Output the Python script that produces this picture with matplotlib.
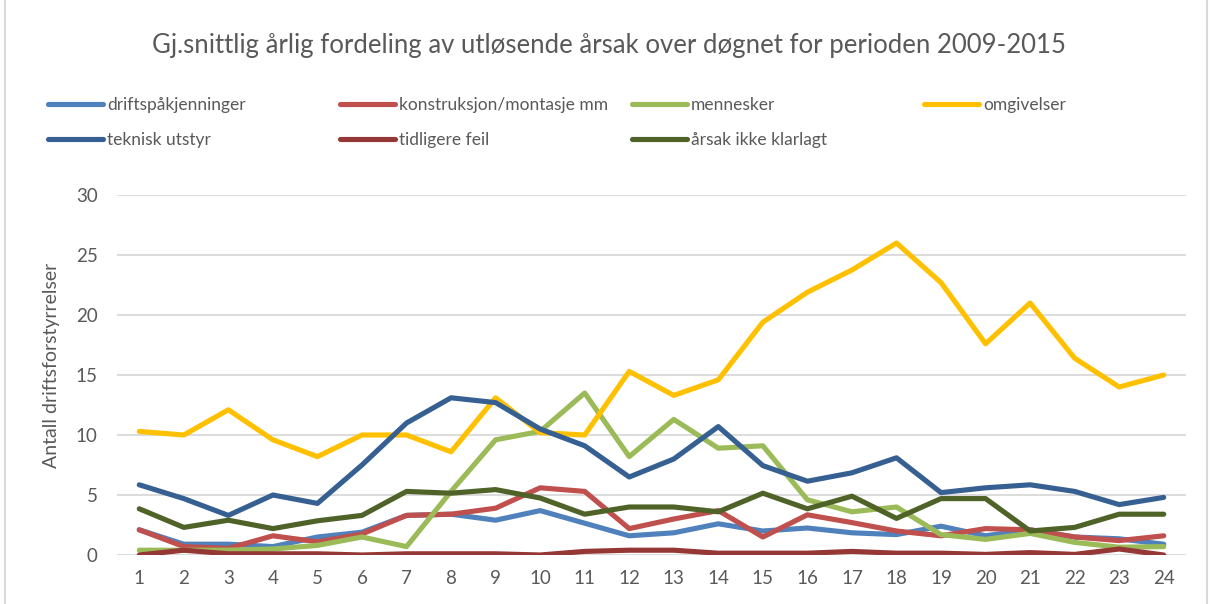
import matplotlib
matplotlib.use("Agg")
import matplotlib.pyplot as plt
from matplotlib.lines import Line2D

plt.rcParams['font.family'] = ['Lato', 'DejaVu Sans']

hours = list(range(1, 25))
series_names = ["driftspåkjenninger", "konstruksjon/montasje mm", "mennesker", "omgivelser",
                "teknisk utstyr", "tidligere feil", "årsak ikke klarlagt"]

driftspakjenninger = [2.1, 0.9, 0.9, 0.7, 1.5, 1.9, 3.3, 3.4, 2.9, 3.7, 2.65, 1.6,
                      1.85, 2.6, 2.0, 2.25, 1.85, 1.7, 2.4, 1.6, 2.1, 1.5, 1.35, 0.9]
konstruksjon = [2.1, 0.7, 0.55, 1.6, 1.1, 1.75, 3.3, 3.4, 3.9, 5.6, 5.3, 2.2,
                3.0, 3.7, 1.5, 3.35, 2.7, 2.0, 1.6, 2.2, 2.1, 1.5, 1.2, 1.6]
mennesker = [0.4, 0.4, 0.4, 0.5, 0.8, 1.5, 0.7, 5.3, 9.6, 10.3, 13.5, 8.2,
             11.3, 8.9, 9.1, 4.6, 3.6, 4.0, 1.7, 1.3, 1.8, 1.05, 0.65, 0.7]
omgivelser = [10.3, 10.0, 12.1, 9.6, 8.2, 10.0, 10.0, 8.6, 13.1, 10.2, 10.0, 15.3,
              13.3, 14.6, 19.4, 21.9, 23.75, 26.0, 22.7, 17.6, 21.0, 16.4, 14.0, 15.0]
teknisk = [5.85, 4.7, 3.3, 5.0, 4.3, 7.5, 11.0, 13.1, 12.7, 10.5, 9.1, 6.5,
           8.0, 10.7, 7.45, 6.15, 6.85, 8.1, 5.2, 5.6, 5.85, 5.3, 4.2, 4.8]
tidligere = [0.0, 0.4, 0.1, 0.1, 0.1, 0.0, 0.1, 0.1, 0.1, 0.0, 0.3, 0.4,
             0.4, 0.15, 0.15, 0.15, 0.3, 0.15, 0.15, 0.05, 0.2, 0.05, 0.5, 0.0]
arsak = [3.85, 2.3, 2.9, 2.2, 2.85, 3.3, 5.3, 5.15, 5.45, 4.75, 3.4, 4.0,
         4.0, 3.6, 5.15, 3.85, 4.9, 3.05, 4.7, 4.7, 2.0, 2.3, 3.4, 3.4]

all_values = [driftspakjenninger, konstruksjon, mennesker, omgivelser, teknisk, tidligere, arsak]
colors = ["#4F81BD", "#C0504D", "#9BBB59", "#FFC000", "#376092", "#953735", "#4F6228"]

W, H = 1211, 604
fig = plt.figure(figsize=(W / 100, H / 100), dpi=100)
ax = fig.add_axes([117 / W, (H - 555) / H, (1186 - 117) / W, 360 / H])

handles = []
for name, vals, c in zip(series_names, all_values, colors):
    ln, = ax.plot(hours, vals, color=c, lw=3.7, solid_capstyle='round',
                  solid_joinstyle='round', label=name)
    handles.append(ln)

ax.set_xlim(0.5, 24.5)
ax.set_ylim(0, 30)
ax.set_yticks(range(0, 31, 5))
ax.set_xticks(hours)
ax.grid(axis='y', color='#D9D9D9', lw=1.3)
ax.set_axisbelow(True)
for s in ax.spines.values():
    s.set_visible(False)
ax.tick_params(axis='both', length=0, labelsize=13.5, colors='#595959')
ax.tick_params(axis='y', pad=14)
ax.tick_params(axis='x', pad=11)
ax.set_ylabel("Antall driftsforstyrrelser", fontsize=14, color='#595959')
ax.yaxis.set_label_coords((52 - 117) / 1069, 0.528)
ax.yaxis.label.set_verticalalignment('center')

fig.text(0.503, 1 - 45 / H, "Gj.snittlig årlig fordeling av utløsende årsak over døgnet for perioden 2009-2015",
         ha='center', va='center', fontsize=18.5, color='#595959')

# legend columns
cols = [[0, 4], [1, 5], [2, 6], [3]]
xs = [48, 340, 632, 924]
for idx, x in zip(cols, xs):
    fig.legend([handles[i] for i in idx], [series_names[i] for i in idx],
               loc='upper left', bbox_to_anchor=(x / W, 1 - 97 / H),
               frameon=False, borderpad=0, borderaxespad=0, fontsize=12.5,
               handlelength=3.15, handletextpad=0.25, labelspacing=1.07,
               labelcolor='#595959')

# chart border lines
fig.add_artist(Line2D([5 / W, 5 / W], [0, 1], color='#D9D9D9', lw=1.5))
fig.add_artist(Line2D([1207 / W, 1207 / W], [0, 1], color='#D9D9D9', lw=1.5))

fig.savefig("out.png", dpi=100)
